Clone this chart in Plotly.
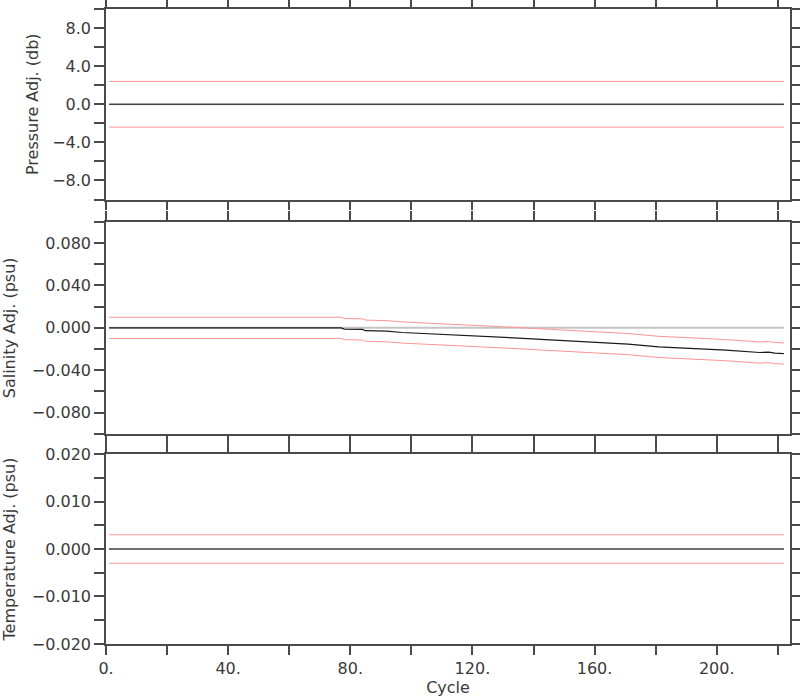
import plotly.graph_objects as go
from plotly.subplots import make_subplots

# ---------------- data ----------------
# Pressure adjustment (db) and its error envelope
pres_cycles = [1, 180, 181, 196, 197, 222]
pres_adj = [0.0, 0.0, 0.0, 0.0, 0.0, 0.0]
pres_err = [2.4, 2.4, 2.44, 2.44, 2.4, 2.4]

# Salinity adjustment (psu) and its error envelope
sal_cycles = [1, 77, 78, 84, 85, 92, 97, 104, 110, 114, 117, 128, 135,
              141, 149, 160, 171, 181, 192, 203, 214, 217, 219, 222]
sal_adj = [0.0, 0.0, -0.0012, -0.0015, -0.0027, -0.0032, -0.0044, -0.0053,
           -0.0060, -0.0064, -0.0072, -0.0085, -0.0097, -0.0107, -0.0120,
           -0.0139, -0.0154, -0.0180, -0.0195, -0.0211, -0.0233, -0.0229,
           -0.0238, -0.0243]
sal_err = [0.010] * len(sal_cycles)

# Temperature adjustment and its error envelope
temp_cycles = [1, 222]
temp_adj = [0.0, 0.0]
temp_err = [0.003, 0.003]

# zero reference
zero_cycles = [1, 222]
zero_vals = [0.0, 0.0]

# axis ticks
x_tickvals = [0, 20, 40, 60, 80, 100, 120, 140, 160, 180, 200, 220]
x_ticktext = ["0.", "", "40.", "", "80.", "", "120.", "", "160.", "", "200.", ""]
p_tickvals = [-10, -8, -6, -4, -2, 0, 2, 4, 6, 8, 10]
p_ticktext = ["", "\u22128.0", "", "\u22124.0", "", "0.0", "", "4.0", "", "8.0", ""]
s_tickvals = [-0.1, -0.08, -0.06, -0.04, -0.02, 0.0, 0.02, 0.04, 0.06, 0.08, 0.1]
s_ticktext = ["", "\u22120.080", "", "\u22120.040", "", "0.000", "", "0.040", "", "0.080", ""]
t_tickvals = [-0.02, -0.015, -0.01, -0.005, 0.0, 0.005, 0.01, 0.015, 0.02]
t_ticktext = ["\u22120.020", "", "\u22120.010", "", "0.000", "", "0.010", "", "0.020"]

# ---------------- figure ----------------
RED = "#ff9494"
BLACK = "#1a1a1a"
GRAY = "#c4c4c4"
AX = "#4a4a4a"

fig = make_subplots(rows=3, cols=1)


def add_panel(row, cyc, adj, err):
    up = [a + e for a, e in zip(adj, err)]
    lo = [a - e for a, e in zip(adj, err)]
    fig.add_trace(go.Scatter(x=zero_cycles, y=zero_vals, mode="lines",
                             line=dict(color=GRAY, width=2), showlegend=False,
                             hoverinfo="skip"), row=row, col=1)
    fig.add_trace(go.Scatter(x=cyc, y=up, mode="lines",
                             line=dict(color=RED, width=1), showlegend=False),
                  row=row, col=1)
    fig.add_trace(go.Scatter(x=cyc, y=lo, mode="lines",
                             line=dict(color=RED, width=1), showlegend=False),
                  row=row, col=1)
    fig.add_trace(go.Scatter(x=cyc, y=adj, mode="lines",
                             line=dict(color=BLACK, width=1.2), showlegend=False),
                  row=row, col=1)


add_panel(1, pres_cycles, pres_adj, pres_err)
add_panel(2, sal_cycles, sal_adj, sal_err)
add_panel(3, temp_cycles, temp_adj, temp_err)

font = dict(family="DejaVu Sans", size=16, color="#3a3a3a")

common_x = dict(range=[0, 224], tickvals=x_tickvals, ticktext=x_ticktext,
                ticks="outside", ticklen=9, tickwidth=1.5, tickcolor=AX,
                showline=True, linecolor=AX, linewidth=1.5, mirror="ticks",
                showgrid=False, zeroline=False, tickfont=font, automargin=False)
common_y = dict(ticks="outside", ticklen=10, tickwidth=1.5, tickcolor=AX,
                showline=True, linecolor=AX, linewidth=1.5, mirror="ticks",
                showgrid=False, zeroline=False, tickfont=font, automargin=False)

fig.update_layout(
    width=800, height=700,
    margin=dict(l=106, r=10, t=9, b=56, autoexpand=False),
    paper_bgcolor="white", plot_bgcolor="white",
    font=font,
    xaxis=dict(common_x, domain=[0, 1], showticklabels=False),
    xaxis2=dict(common_x, domain=[0, 1], showticklabels=False),
    xaxis3=dict(common_x, domain=[0, 1], showticklabels=True,
                title=dict(text="Cycle", font=font, standoff=4)),
    yaxis=dict(common_y, domain=[0.700, 1.0], range=[-10, 10],
               tickvals=p_tickvals, ticktext=p_ticktext,
               title=dict(text="Pressure Adj. (db)", font=font, standoff=10)),
    yaxis2=dict(common_y, domain=[0.3312, 0.6646], range=[-0.1, 0.1],
                tickvals=s_tickvals, ticktext=s_ticktext,
                title=dict(text="Salinity Adj. (psu)", font=font, standoff=16)),
    yaxis3=dict(common_y, domain=[0.0, 0.2992], range=[-0.02, 0.02],
                tickvals=t_tickvals, ticktext=t_ticktext,
                title=dict(text="Temperature Adj. (psu)", font=font, standoff=16)),
)

# remove the default 8px page margin so the 800x700 figure fills the window
fig.write_html("out.html", config={"displayModeBar": False},
               post_script="document.body.style.margin='0';")
